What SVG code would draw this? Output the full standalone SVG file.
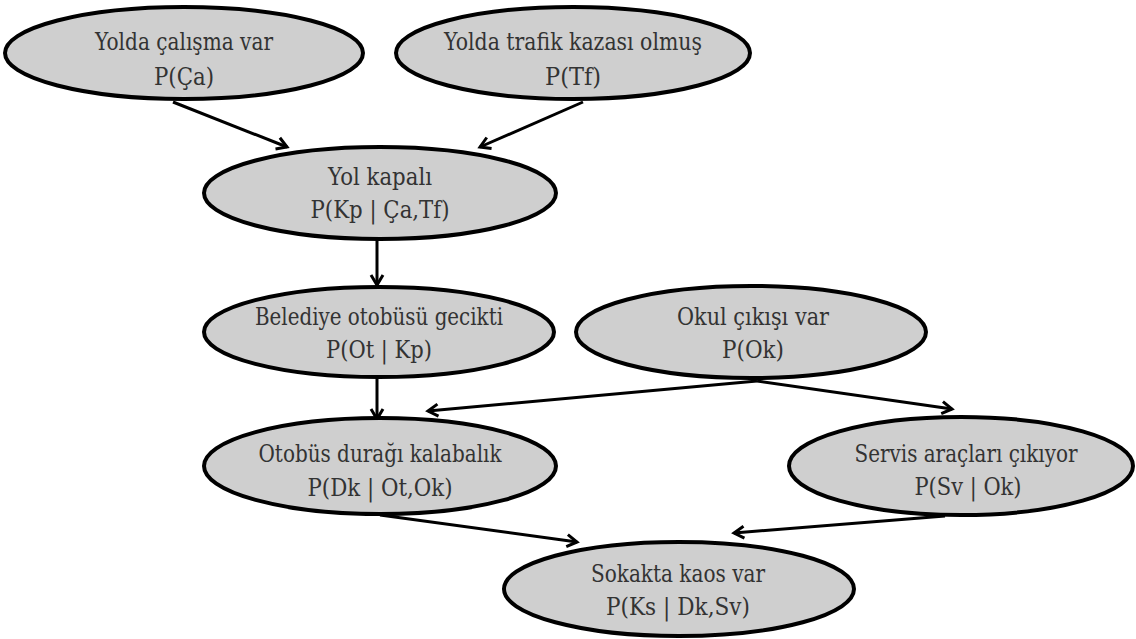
<svg xmlns="http://www.w3.org/2000/svg" width="1136" height="639" viewBox="0 0 1136 639">
  <style>
    .node ellipse { fill: #cfcfcf; stroke: #000; stroke-width: 4; }
    .node text { font-family: 'DejaVu Serif', 'Liberation Serif', serif; font-size: 24px; fill: #333; text-anchor: middle; }
    .edges line { stroke: #000; stroke-width: 3; marker-end: url(#arrow); }
  </style>
  <defs>
    <marker id="arrow" markerUnits="userSpaceOnUse" markerWidth="18" markerHeight="18" refX="13" refY="8" orient="auto">
      <path d="M3,2 L13,8 L3,14" fill="none" stroke="#000" stroke-width="3" stroke-linejoin="miter"/>
    </marker>
  </defs>
  <rect width="1136" height="639" fill="#fff"/>

  <!-- connectors -->
  <g id="edges" class="edges">
    <line x1="173" y1="102" x2="287" y2="147"/>
    <line x1="583" y1="102" x2="480" y2="147"/>
    <line x1="377" y1="240" x2="377" y2="285"/>
    <line x1="377" y1="378" x2="377" y2="419"/>
    <line x1="757" y1="381" x2="428" y2="411"/>
    <line x1="757" y1="381" x2="952" y2="409"/>
    <line x1="380" y1="515" x2="577" y2="542"/>
    <line x1="945" y1="516" x2="734" y2="533"/>
  </g>

  <!-- nodes: each text line is fitted to a Times-like width -->
  <g id="n-calisma" class="node">
    <ellipse cx="184" cy="53" rx="179" ry="46"/>
    <text x="184" y="50" textLength="178" lengthAdjust="spacingAndGlyphs">Yolda çalışma var</text>
    <text x="184" y="85" textLength="60" lengthAdjust="spacingAndGlyphs">P(Ça)</text>
  </g>
  <g id="n-trafik" class="node">
    <ellipse cx="573" cy="53" rx="177" ry="46"/>
    <text x="573" y="50" textLength="258" lengthAdjust="spacingAndGlyphs">Yolda trafik kazası olmuş</text>
    <text x="573" y="85" textLength="56" lengthAdjust="spacingAndGlyphs">P(Tf)</text>
  </g>
  <g id="n-kapali" class="node">
    <ellipse cx="380" cy="193" rx="176" ry="46"/>
    <text x="380" y="185" textLength="104" lengthAdjust="spacingAndGlyphs">Yol kapalı</text>
    <text x="380" y="218" textLength="139" lengthAdjust="spacingAndGlyphs">P(Kp | Ça,Tf)</text>
  </g>
  <g id="n-otobus-gecikti" class="node">
    <ellipse cx="379" cy="332" rx="175" ry="45"/>
    <text x="379" y="325" textLength="248" lengthAdjust="spacingAndGlyphs">Belediye otobüsü gecikti</text>
    <text x="379" y="358" textLength="106" lengthAdjust="spacingAndGlyphs">P(Ot | Kp)</text>
  </g>
  <g id="n-okul" class="node">
    <ellipse cx="751" cy="332" rx="175" ry="46"/>
    <text x="753" y="325" textLength="152" lengthAdjust="spacingAndGlyphs">Okul çıkışı var</text>
    <text x="753" y="358" textLength="62" lengthAdjust="spacingAndGlyphs">P(Ok)</text>
  </g>
  <g id="n-durak" class="node">
    <ellipse cx="380" cy="466" rx="176" ry="48"/>
    <text x="380" y="462" textLength="243" lengthAdjust="spacingAndGlyphs">Otobüs durağı kalabalık</text>
    <text x="380" y="496" textLength="145" lengthAdjust="spacingAndGlyphs">P(Dk | Ot,Ok)</text>
  </g>
  <g id="n-servis" class="node">
    <ellipse cx="961" cy="466" rx="172" ry="49"/>
    <text x="966" y="462" textLength="223" lengthAdjust="spacingAndGlyphs">Servis araçları çıkıyor</text>
    <text x="968" y="495" textLength="107" lengthAdjust="spacingAndGlyphs">P(Sv | Ok)</text>
  </g>
  <g id="n-kaos" class="node">
    <ellipse cx="679" cy="589" rx="175" ry="47"/>
    <text x="678" y="582" textLength="174" lengthAdjust="spacingAndGlyphs">Sokakta kaos var</text>
    <text x="678" y="615" textLength="144" lengthAdjust="spacingAndGlyphs">P(Ks | Dk,Sv)</text>
  </g>
</svg>
